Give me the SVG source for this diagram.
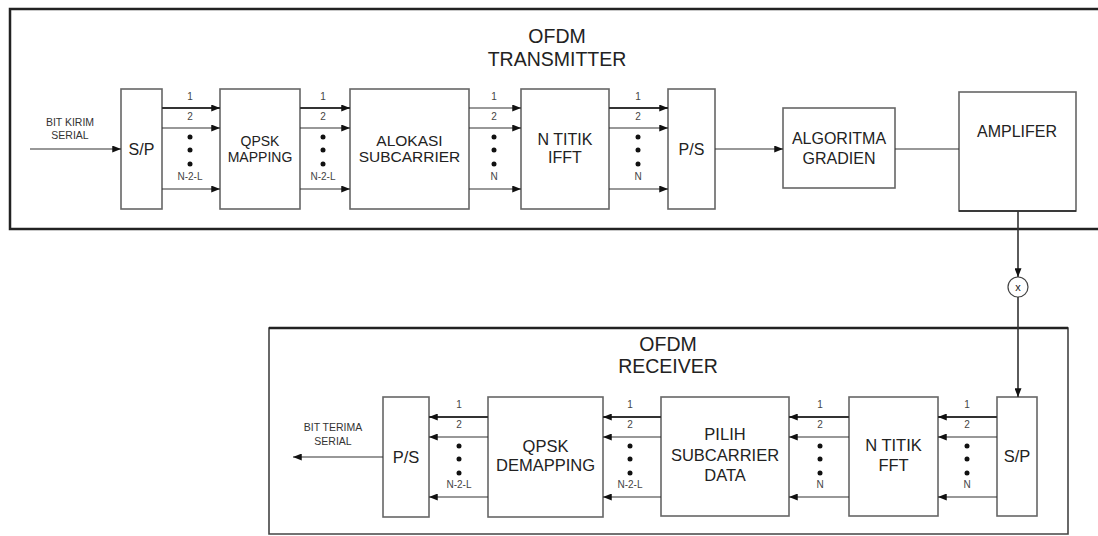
<svg xmlns="http://www.w3.org/2000/svg" width="1098" height="536" viewBox="0 0 1098 536">
<defs>
<marker id="ah" viewBox="0 0 10 8" refX="10" refY="4" markerWidth="9" markerHeight="7" markerUnits="userSpaceOnUse" orient="auto">
<path d="M0,0 L10,4 L0,8 Z" fill="#111"/>
</marker>
</defs>
<style>
text{font-family:"Liberation Sans",Arial,sans-serif;fill:#222;text-anchor:middle}
.blk{fill:#fff;stroke:#666;stroke-width:1.6}
.frame{fill:none;stroke:#222;stroke-width:2.5}
.t{font-size:16px}
.tq{font-size:14px}
.tr{font-size:16.5px}
.ttl{font-size:19.5px}
.s{font-size:10px;fill:#444}
.io{font-size:10.5px;fill:#333}
.ln{stroke:#333;stroke-width:1.2;fill:none}
.arr{stroke:#333;stroke-width:1.2;fill:none;marker-end:url(#ah)}
.dot{fill:#111}
</style>
<rect width="1098" height="536" fill="#fff"/>

<g id="tx-frame">
<rect class="frame" x="10" y="9" width="1100" height="220"/>
<text class="ttl" x="557" y="43">OFDM</text>
<text class="ttl" x="557" y="66">TRANSMITTER</text>
</g>
<g id="rx-frame">
<path d="M269,534 L269,328 L1068,328 L1068,534 Z" fill="none" stroke="#444" stroke-width="1.6"/>
<line x1="269" y1="328" x2="1068" y2="328" stroke="#222" stroke-width="2.5"/>
<text class="ttl" x="668" y="351">OFDM</text>
<text class="ttl" x="668" y="373">RECEIVER</text>
</g>

<g id="tx-sp"><rect class="blk" x="121" y="89" width="41" height="120"/><text class="t" x="141.5" y="155">S/P</text></g>
<g id="tx-qpsk"><rect class="blk" x="220" y="89" width="80" height="120"/><text class="tq" x="260" y="146">QPSK</text><text class="tq" x="260" y="162">MAPPING</text></g>
<g id="tx-alokasi"><rect class="blk" x="350" y="89" width="119" height="120"/><text class="t" x="409.5" y="146" style="font-size:15.5px">ALOKASI</text><text class="t" x="409.5" y="162" style="font-size:15.5px">SUBCARRIER</text></g>
<g id="tx-ifft"><rect class="blk" x="521" y="89" width="88" height="120"/><text class="t" x="565" y="145">N TITIK</text><text class="t" x="565" y="163">IFFT</text></g>
<g id="tx-ps"><rect class="blk" x="668" y="89" width="47" height="120"/><text class="t" x="691.5" y="155">P/S</text></g>
<g id="tx-algo"><rect class="blk" x="783" y="108" width="112" height="80"/><text class="t" x="839" y="144">ALGORITMA</text><text class="t" x="839" y="164">GRADIEN</text></g>
<g id="tx-amp"><rect class="blk" x="959" y="92" width="117" height="119"/><line x1="959" y1="211" x2="1076" y2="211" stroke="#222" stroke-width="1.6"/><text class="t" x="1017" y="137">AMPLIFER</text></g>

<g id="mixer"><circle cx="1018" cy="287" r="10" fill="#fff" stroke="#444" stroke-width="1.2"/><text x="1018" y="291" style="font-size:11px">x</text></g>

<g id="rx-ps"><rect class="blk" x="383" y="397" width="46" height="120"/><text class="tr" x="406" y="463">P/S</text></g>
<g id="rx-qpsk"><rect class="blk" x="488" y="397" width="115" height="120"/><text class="tr" x="545.5" y="452">QPSK</text><text class="tr" x="545.5" y="471">DEMAPPING</text></g>
<g id="rx-pilih"><rect class="blk" x="661" y="397" width="128" height="119"/><text class="tr" x="725" y="440">PILIH</text><text class="tr" x="725" y="461">SUBCARRIER</text><text class="tr" x="725" y="481">DATA</text></g>
<g id="rx-fft"><rect class="blk" x="849" y="397" width="89" height="119"/><text class="tr" x="893.5" y="451">N TITIK</text><text class="tr" x="893.5" y="471">FFT</text></g>
<g id="rx-sp"><rect class="blk" x="997" y="397" width="40" height="119"/><text class="tr" x="1017" y="462">S/P</text></g>

<g id="connectors">
<line class="arr" x1="30" y1="149" x2="121" y2="149"/>
<text class="io" x="70" y="126">BIT KIRIM</text>
<text class="io" x="70" y="139">SERIAL</text>
<g>
<line class="arr" x1="162" y1="108" x2="220" y2="108" style="stroke-width:1.8"/>
<line class="arr" x1="162" y1="128" x2="220" y2="128"/>
<line class="arr" x1="162" y1="189" x2="220" y2="189"/>
<text class="s" x="190" y="100">1</text><text class="s" x="190" y="120">2</text>
<circle class="dot" cx="190" cy="137" r="2.5"/><circle class="dot" cx="190" cy="150" r="2.5"/><circle class="dot" cx="190" cy="164" r="2.5"/>
<text class="s" x="190" y="180">N-2-L</text>
</g>
<g>
<line class="arr" x1="300" y1="108" x2="350" y2="108" style="stroke-width:1.8"/>
<line class="arr" x1="300" y1="128" x2="350" y2="128"/>
<line class="arr" x1="300" y1="189" x2="350" y2="189"/>
<text class="s" x="323" y="100">1</text><text class="s" x="323" y="120">2</text>
<circle class="dot" cx="323" cy="137" r="2.5"/><circle class="dot" cx="323" cy="150" r="2.5"/><circle class="dot" cx="323" cy="164" r="2.5"/>
<text class="s" x="323" y="180">N-2-L</text>
</g>
<g>
<line class="arr" x1="469" y1="108" x2="521" y2="108"/>
<line class="arr" x1="469" y1="128" x2="521" y2="128"/>
<line class="arr" x1="469" y1="189" x2="521" y2="189"/>
<text class="s" x="494" y="100">1</text><text class="s" x="494" y="120">2</text>
<circle class="dot" cx="494" cy="137" r="2.5"/><circle class="dot" cx="494" cy="150" r="2.5"/><circle class="dot" cx="494" cy="164" r="2.5"/>
<text class="s" x="494" y="180">N</text>
</g>
<g>
<line class="arr" x1="609" y1="108" x2="668" y2="108" style="stroke-width:1.8"/>
<line class="arr" x1="609" y1="128" x2="668" y2="128"/>
<line class="arr" x1="609" y1="189" x2="668" y2="189"/>
<text class="s" x="638" y="100">1</text><text class="s" x="638" y="120">2</text>
<circle class="dot" cx="638" cy="137" r="2.5"/><circle class="dot" cx="638" cy="150" r="2.5"/><circle class="dot" cx="638" cy="164" r="2.5"/>
<text class="s" x="638" y="180">N</text>
</g>
<line class="arr" x1="715" y1="149" x2="783" y2="149"/>
<line class="ln" x1="895" y1="149" x2="959" y2="149"/>
<line class="arr" x1="1018" y1="211" x2="1018" y2="277" style="stroke-width:1.6"/>
<line class="arr" x1="1018" y1="297" x2="1018" y2="397" style="stroke-width:1.6"/>
<g>
<line class="arr" x1="997" y1="417" x2="938" y2="417" style="stroke-width:1.8"/>
<line class="arr" x1="997" y1="437" x2="938" y2="437"/>
<line class="arr" x1="997" y1="497" x2="938" y2="497"/>
<text class="s" x="967" y="408">1</text><text class="s" x="967" y="428">2</text>
<circle class="dot" cx="967" cy="446" r="2.5"/><circle class="dot" cx="967" cy="459" r="2.5"/><circle class="dot" cx="967" cy="473" r="2.5"/>
<text class="s" x="967" y="488">N</text>
</g>
<g>
<line class="arr" x1="849" y1="417" x2="789" y2="417" style="stroke-width:1.8"/>
<line class="arr" x1="849" y1="437" x2="789" y2="437"/>
<line class="arr" x1="849" y1="497" x2="789" y2="497"/>
<text class="s" x="820" y="408">1</text><text class="s" x="820" y="428">2</text>
<circle class="dot" cx="820" cy="446" r="2.5"/><circle class="dot" cx="820" cy="459" r="2.5"/><circle class="dot" cx="820" cy="473" r="2.5"/>
<text class="s" x="820" y="488">N</text>
</g>
<g>
<line class="arr" x1="661" y1="417" x2="603" y2="417" style="stroke-width:1.8"/>
<line class="arr" x1="661" y1="437" x2="603" y2="437"/>
<line class="arr" x1="661" y1="497" x2="603" y2="497"/>
<text class="s" x="630" y="408">1</text><text class="s" x="630" y="428">2</text>
<circle class="dot" cx="630" cy="446" r="2.5"/><circle class="dot" cx="630" cy="459" r="2.5"/><circle class="dot" cx="630" cy="473" r="2.5"/>
<text class="s" x="630" y="488">N-2-L</text>
</g>
<g>
<line class="arr" x1="488" y1="417" x2="429" y2="417" style="stroke-width:1.8"/>
<line class="arr" x1="488" y1="437" x2="429" y2="437"/>
<line class="arr" x1="488" y1="497" x2="429" y2="497"/>
<text class="s" x="459" y="408">1</text><text class="s" x="459" y="428">2</text>
<circle class="dot" cx="459" cy="446" r="2.5"/><circle class="dot" cx="459" cy="459" r="2.5"/><circle class="dot" cx="459" cy="473" r="2.5"/>
<text class="s" x="459" y="488">N-2-L</text>
</g>
<line class="arr" x1="383" y1="457" x2="293" y2="457"/>
<text class="io" x="333" y="431">BIT TERIMA</text>
<text class="io" x="333" y="445">SERIAL</text>
</g>
</svg>
